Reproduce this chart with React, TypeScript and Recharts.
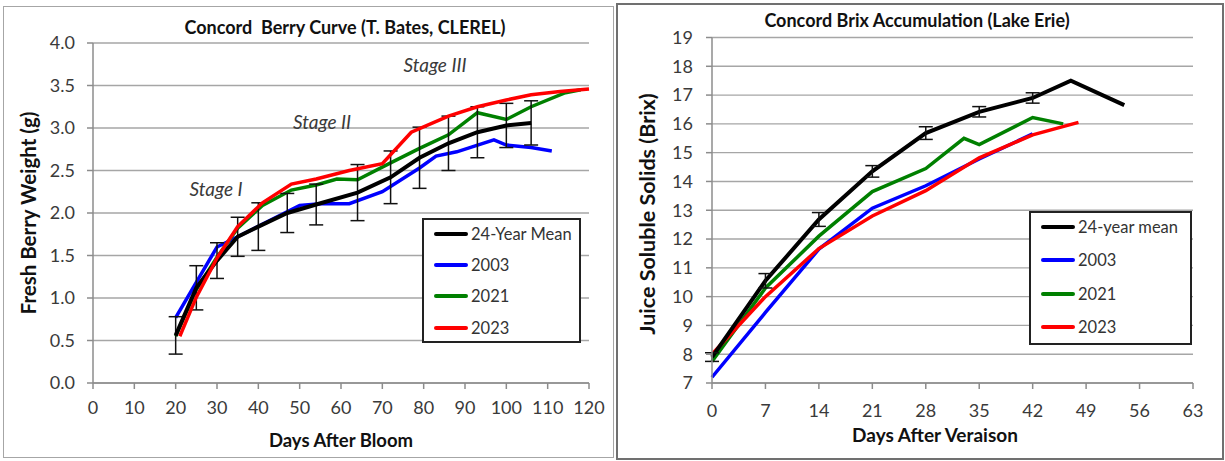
import React from 'react';
import { LineChart, Line, XAxis, YAxis, CartesianGrid, ErrorBar, Legend, Customized } from 'recharts';

// ---------- Left chart: Concord Berry Curve ----------
const bloomTicks = [0, 10, 20, 30, 40, 50, 60, 70, 80, 90, 100, 110, 120];
const weightTicks = [0, 0.5, 1, 1.5, 2, 2.5, 3, 3.5, 4];

const meanDays = [20, 25, 30, 35, 40, 47, 54, 64, 72, 79, 86, 93, 100, 106];
const meanWeight = [0.56, 1.12, 1.44, 1.72, 1.84, 2.0, 2.1, 2.24, 2.42, 2.65, 2.82, 2.95, 3.03, 3.06];
const meanWeightErr = [0.22, 0.26, 0.21, 0.23, 0.28, 0.23, 0.24, 0.33, 0.31, 0.36, 0.32, 0.3, 0.26, 0.26];

const days2003 = [20, 30, 35, 50, 55, 62, 70, 79, 83, 88, 97, 100, 106, 111];
const weight2003 = [0.77, 1.6, 1.72, 2.09, 2.11, 2.11, 2.25, 2.53, 2.67, 2.72, 2.86, 2.8, 2.77, 2.73];

const days2021 = [20, 25, 30, 35, 41, 48, 54, 59, 64, 72, 79, 86, 93, 100, 106, 114, 118];
const weight2021 = [0.55, 1.1, 1.48, 1.82, 2.09, 2.27, 2.33, 2.4, 2.39, 2.59, 2.76, 2.92, 3.18, 3.1, 3.25, 3.41, 3.45];

const days2023 = [21, 25, 30, 35, 41, 48, 54, 62, 70, 77, 86, 93, 100, 106, 113, 120];
const weight2023 = [0.55, 1.01, 1.47, 1.84, 2.12, 2.34, 2.4, 2.5, 2.58, 2.95, 3.14, 3.25, 3.33, 3.39, 3.43, 3.46];

const leftLegend = ['24-Year Mean', '2003', '2021', '2023'];

// ---------- Right chart: Concord Brix Accumulation ----------
const veraisonTicks = [0, 7, 14, 21, 28, 35, 42, 49, 56, 63];
const brixTicks = [7, 8, 9, 10, 11, 12, 13, 14, 15, 16, 17, 18, 19];

const meanBrixDays = [0, 7, 14, 21, 28, 35, 42, 47, 54];
const meanBrix = [7.9, 10.55, 12.68, 14.35, 15.68, 16.42, 16.9, 17.5, 16.65];
const meanBrixErrDays = [0, 7, 14, 21, 28, 35, 42];
const meanBrixErr = [0.15, 0.25, 0.24, 0.2, 0.22, 0.18, 0.18];

const brixDays2003 = [0, 7, 14, 21, 28, 35, 42];
const brix2003 = [7.2, 9.45, 11.65, 13.07, 13.85, 14.78, 15.65];

const brixDays2021 = [0, 7, 14, 21, 28, 33, 35, 42, 46];
const brix2021 = [7.75, 10.3, 12.1, 13.65, 14.45, 15.5, 15.28, 16.22, 16.0];

const brixDays2023 = [0, 7, 14, 21, 28, 35, 42, 48];
const brix2023 = [8.0, 10.0, 11.67, 12.8, 13.68, 14.82, 15.62, 16.05];

const rightLegend = ['24-year mean', '2003', '2021', '2023'];

const seriesColors = ['#000000', '#0000ff', '#008000', '#ff0000'];

const zip = (xs: number[], ys: number[], es?: number[]) =>
  xs.map((x, i) => (es ? { x, y: ys[i], e: es[i] } : { x, y: ys[i] }));

const FONT = 'Lato, "Open Sans", sans-serif';
const GRID = '#a6a6a6';
const AXIS = '#8c8c8c';
const TEXT = '#3a3a3a';

const makeLegend = (labels: string[], gap: number, shift: number) => () => (
  <div
    style={{
      border: '2px solid #222',
      background: '#fff',
      boxSizing: 'border-box',
      width: '100%',
      height: '100%',
      padding: '0 0 0 10px',
      fontFamily: FONT,
      fontSize: 16.5,
      color: '#333',
    }}
  >
    <div style={{ marginTop: shift }}>
      {labels.map((l, i) => (
        <div key={l} style={{ display: 'flex', alignItems: 'center', height: gap }}>
          <div style={{ width: 34, height: 4, background: seriesColors[i], borderRadius: 2, marginRight: 3 }} />
          <span>{l}</span>
        </div>
      ))}
    </div>
  </div>
);

const LeftLabels = () => (
  <g fontFamily={FONT}>
    <text x={341} y={20} textAnchor="middle" dominantBaseline="central" fontWeight="bold" fontSize={18} fill="#111" style={{ whiteSpace: 'pre' }}>
      {'Concord  Berry Curve (T. Bates, CLEREL)'}
    </text>
    <text x={24} y={206} textAnchor="middle" dominantBaseline="central" fontWeight="bold" fontSize={20.5} fill="#111" transform="rotate(-90 24 206)">
      Fresh Berry Weight (g)
    </text>
    <text x={337} y={433} textAnchor="middle" dominantBaseline="central" fontWeight="bold" fontSize={18.5} fill="#111">
      Days After Bloom
    </text>
    <text x={212} y={181} textAnchor="middle" dominantBaseline="central" fontStyle="italic" fontSize={19} fill={TEXT}>Stage I</text>
    <text x={318} y={114} textAnchor="middle" dominantBaseline="central" fontStyle="italic" fontSize={19} fill={TEXT}>Stage II</text>
    <text x={431} y={57} textAnchor="middle" dominantBaseline="central" fontStyle="italic" fontSize={19} fill={TEXT}>Stage III</text>
  </g>
);

const RightLabels = () => (
  <g fontFamily={FONT}>
    <text x={300} y={16} textAnchor="middle" dominantBaseline="central" fontWeight="bold" fontSize={18} fill="#111">
      Concord Brix Accumulation (Lake Erie)
    </text>
    <text x={30} y={210} textAnchor="middle" dominantBaseline="central" fontWeight="bold" fontSize={21.5} fill="#111" transform="rotate(-90 30 210)">
      Juice Soluble Solids (Brix)
    </text>
    <text x={318} y={430} textAnchor="middle" dominantBaseline="central" fontWeight="bold" fontSize={19} fill="#111">
      Days After Veraison
    </text>
  </g>
);

export default function App() {
  const leftData = [
    zip(meanDays, meanWeight, meanWeightErr),
    zip(days2003, weight2003),
    zip(days2021, weight2021),
    zip(days2023, weight2023),
  ];
  const rightData = [
    zip(meanBrixDays, meanBrix),
    zip(brixDays2003, brix2003),
    zip(brixDays2021, brix2021),
    zip(brixDays2023, brix2023),
  ];
  const rightErr = zip(meanBrixErrDays, meanBrixErrDays.map((_, i) => meanBrix[i]), meanBrixErr);

  const tickStyle = { fill: TEXT, fontSize: 18, fontFamily: FONT };

  return (
    <div style={{ position: 'absolute', left: 0, top: 0, width: 1225, height: 461, background: '#fff', fontFamily: FONT }}>
      <div style={{ position: 'absolute', left: 3, top: 6, width: 609, height: 450, border: '1.5px solid #a6a6a6' }} />
      <div style={{ position: 'absolute', left: 616, top: 3, width: 604, height: 453, border: '2px solid #707070' }} />

      <div style={{ position: 'absolute', left: 4, top: 7 }}>
        <LineChart width={611} height={452} margin={{ top: 36, right: 26, bottom: 0, left: 0 }}>
          <CartesianGrid vertical={false} stroke={GRID} strokeWidth={1.4} />
          <XAxis
            type="number"
            dataKey="x"
            domain={[0, 120]}
            ticks={bloomTicks}
            interval={0}
            height={76}
            tickSize={6}
            tickMargin={12}
            axisLine={{ stroke: AXIS, strokeWidth: 1.5 }}
            tickLine={{ stroke: AXIS, strokeWidth: 1.5 }}
            tick={tickStyle}
            allowDuplicatedCategory={false}
          />
          <YAxis
            type="number"
            domain={[0, 4]}
            ticks={weightTicks}
            interval={0}
            width={89}
            tickSize={6}
            tickMargin={12}
            tickFormatter={(v: number) => v.toFixed(1)}
            axisLine={{ stroke: AXIS, strokeWidth: 1.5 }}
            tickLine={{ stroke: AXIS, strokeWidth: 1.5 }}
            tick={tickStyle}
          />
          <Line data={leftData[1]} dataKey="y" stroke={seriesColors[1]} strokeWidth={3.5} dot={false} isAnimationActive={false} />
          <Line data={leftData[2]} dataKey="y" stroke={seriesColors[2]} strokeWidth={3.5} dot={false} isAnimationActive={false} />
          <Line data={leftData[0]} dataKey="y" stroke={seriesColors[0]} strokeWidth={4} dot={false} isAnimationActive={false}>
            <ErrorBar dataKey="e" direction="y" width={7} stroke="#111" strokeWidth={1.5} />
          </Line>
          <Line data={leftData[3]} dataKey="y" stroke={seriesColors[3]} strokeWidth={3.5} dot={false} isAnimationActive={false} />
          <Legend
            layout="horizontal"
            verticalAlign="middle"
            align="center"
            content={makeLegend(leftLegend, 31.3, -2)}
            wrapperStyle={{ left: 418, top: 211, width: 159, height: 125 }}
          />
          <Customized component={LeftLabels} />
        </LineChart>
      </div>

      <div style={{ position: 'absolute', left: 617, top: 4 }}>
        <LineChart width={605} height={454} margin={{ top: 33.5, right: 29, bottom: 0, left: 0 }}>
          <CartesianGrid vertical={false} stroke={GRID} strokeWidth={1.4} />
          <XAxis
            type="number"
            dataKey="x"
            domain={[0, 63]}
            ticks={veraisonTicks}
            interval={0}
            height={75}
            tickSize={6}
            tickMargin={15}
            axisLine={{ stroke: AXIS, strokeWidth: 1.5 }}
            tickLine={{ stroke: AXIS, strokeWidth: 1.5 }}
            tick={tickStyle}
            allowDuplicatedCategory={false}
          />
          <YAxis
            type="number"
            domain={[7, 19]}
            ticks={brixTicks}
            interval={0}
            width={95}
            tickSize={6}
            tickMargin={13}
            axisLine={{ stroke: AXIS, strokeWidth: 1.5 }}
            tickLine={{ stroke: AXIS, strokeWidth: 1.5 }}
            tick={tickStyle}
          />
          <Line data={rightData[2]} dataKey="y" stroke={seriesColors[2]} strokeWidth={3.5} dot={false} isAnimationActive={false} />
          <Line data={rightData[1]} dataKey="y" stroke={seriesColors[1]} strokeWidth={3.5} dot={false} isAnimationActive={false} />
          <Line data={rightData[3]} dataKey="y" stroke={seriesColors[3]} strokeWidth={3.5} dot={false} isAnimationActive={false} />
          <Line data={rightData[0]} dataKey="y" stroke={seriesColors[0]} strokeWidth={4} dot={false} isAnimationActive={false} />
          <Line data={rightErr} dataKey="y" stroke="none" dot={false} legendType="none" isAnimationActive={false}>
            <ErrorBar dataKey="e" direction="y" width={7} stroke="#111" strokeWidth={1.5} />
          </Line>
          <Legend
            layout="horizontal"
            verticalAlign="middle"
            align="center"
            content={makeLegend(rightLegend, 33.3, -2.5)}
            wrapperStyle={{ left: 412, top: 207, width: 163, height: 134 }}
          />
          <Customized component={RightLabels} />
        </LineChart>
      </div>
    </div>
  );
}
